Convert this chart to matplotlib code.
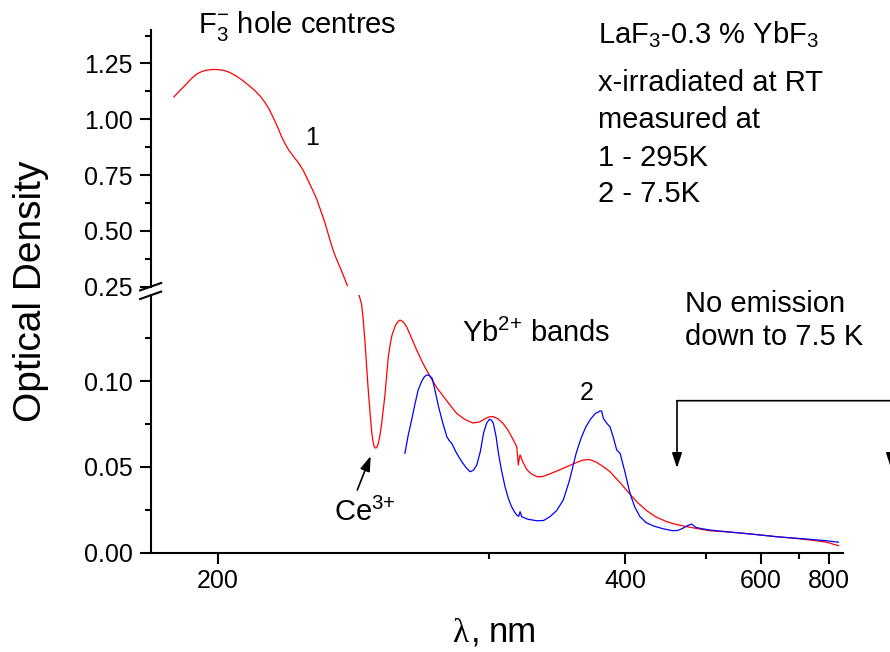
import numpy as np
import matplotlib
matplotlib.use('Agg')
import matplotlib.pyplot as plt
from matplotlib.ticker import FixedLocator, NullFormatter, FormatStrFormatter, FixedFormatter

plt.rcParams['font.family'] = 'Liberation Sans'
plt.rcParams['mathtext.fontset'] = 'custom'
plt.rcParams['mathtext.rm'] = 'Liberation Sans'
plt.rcParams['mathtext.it'] = 'Liberation Sans:italic'
plt.rcParams['mathtext.bf'] = 'Liberation Sans:bold'

# curve 1 (295 K), part above the axis break
red_top_wl = [189.8, 191.2, 192.6, 193.8, 195.0, 196.2, 197.3, 198.6, 199.9, 201.5,
              203.0, 204.7, 206.4, 208.0, 209.6, 211.0, 212.3, 213.5, 214.6, 215.8,
              216.9, 218.0, 219.2, 220.7, 222.2, 223.5, 224.7, 226.1, 227.6, 229.0,
              230.4, 231.7, 233.0, 234.2, 235.3, 236.6, 237.9]
red_top_od = [1.100, 1.130, 1.158, 1.183, 1.203, 1.214, 1.220, 1.223, 1.223, 1.219,
              1.210, 1.193, 1.173, 1.151, 1.128, 1.104, 1.076, 1.045, 1.009, 0.968,
              0.927, 0.891, 0.860, 0.830, 0.801, 0.770, 0.734, 0.692, 0.645, 0.590,
              0.533, 0.472, 0.414, 0.372, 0.339, 0.297, 0.254]

# curve 1 (295 K), part below the axis break
red_bot_wl = [242.0, 242.9, 243.5, 244.1, 244.7, 245.3, 246.0, 246.6, 247.1, 247.5,
              248.0, 248.5, 249.0, 249.6, 250.3, 251.0, 251.7, 252.4, 253.0, 253.8,
              254.5, 255.7, 256.7, 257.7, 259.0, 260.4, 262.5, 264.7, 267.5, 270.6,
              273.6, 276.7, 280.0, 283.0, 287.0, 291.2, 294.8, 298.1, 300.3, 302.3,
              305.0, 307.8, 310.5, 312.9, 314.6, 316.0, 316.6, 317.0, 317.5, 318.1,
              320.0, 322.5, 325.5, 329.0, 332.5, 335.8, 341.0, 347.4, 355.0, 362.6,
              368.0, 373.0, 379.0, 385.8, 395.0, 405.0, 413.0, 422.6, 433.0, 445.6,
              458.0, 471.5, 488.0, 505.6, 534.0, 564.1, 600.0, 637.9, 685.0, 733.3,
              790.0, 840.6]
red_bot_od = [0.150, 0.145, 0.136, 0.124, 0.110, 0.096, 0.082, 0.071, 0.065, 0.062,
              0.061, 0.0612, 0.063, 0.067, 0.074, 0.083, 0.092, 0.104, 0.114, 0.122,
              0.127, 0.132, 0.1345, 0.1356, 0.1345, 0.1317, 0.125, 0.118, 0.110, 0.1026,
              0.0962, 0.091, 0.0858, 0.0812, 0.0778, 0.0756, 0.0762, 0.0783, 0.0792, 0.0793,
              0.0780, 0.0754, 0.0718, 0.0676, 0.0645, 0.0618, 0.0560, 0.0511, 0.0545, 0.057,
              0.0525, 0.0482, 0.0458, 0.0443, 0.0443, 0.0453, 0.0470, 0.0492, 0.0518, 0.054,
              0.0543, 0.053, 0.0505, 0.0472, 0.0410, 0.0341, 0.0291, 0.0245, 0.0208, 0.0181,
              0.0164, 0.0152, 0.0139, 0.0128, 0.0121, 0.0113, 0.0103, 0.0093, 0.0084, 0.0074,
              0.0062, 0.0041]

# curve 2 (7.5 K)
blue_wl = [259.7, 261.0, 262.5, 263.9, 265.3, 266.8, 268.0, 269.1, 270.3, 271.5,
           272.8, 274.4, 276.4, 278.3, 279.5, 280.6, 283.0, 285.6, 287.8, 289.8,
           291.5, 293.3, 295.2, 296.9, 298.6, 300.1, 301.2, 302.3, 303.8, 305.2,
           307.0, 309.0, 311.0, 312.9, 314.5, 316.0, 317.2, 318.1, 319.1, 323.0,
           329.0, 333.5, 337.8, 342.5, 347.4, 352.0, 357.2, 361.0, 365.0, 369.0,
           373.0, 375.5, 376.9, 378.3, 379.9, 382.9, 385.8, 389.0, 392.1, 395.3,
           400.0, 405.0, 410.0, 415.3, 422.0, 430.0, 441.0, 452.9, 460.0, 466.0,
           473.0, 478.4, 484.0, 490.4, 505.6, 534.0, 564.1, 600.0, 637.9, 685.0,
           733.3, 790.0, 840.6]
blue_od = [0.0579, 0.0680, 0.0773, 0.0865, 0.0948, 0.0998, 0.1025, 0.1036, 0.1032, 0.1016,
           0.0945, 0.0851, 0.0755, 0.0676, 0.0652, 0.0638, 0.0580, 0.053, 0.0495, 0.0472,
           0.0480, 0.0511, 0.0590, 0.0696, 0.0755, 0.0777, 0.0773, 0.0754, 0.0680, 0.0579,
           0.0478, 0.0385, 0.0315, 0.0268, 0.0240, 0.022, 0.0212, 0.0239, 0.021, 0.0195,
           0.0186, 0.0188, 0.021, 0.0245, 0.0307, 0.0420, 0.0579, 0.0665, 0.0734, 0.0780,
           0.0812, 0.0820, 0.0826, 0.0826, 0.0783, 0.0754, 0.0734, 0.0670, 0.0598, 0.0579,
           0.0470, 0.0346, 0.0265, 0.021, 0.0175, 0.0156, 0.0140, 0.0128, 0.0130, 0.0142,
           0.0158, 0.0167, 0.0148, 0.0142, 0.0132, 0.0122, 0.0113, 0.0103, 0.0093, 0.0085,
           0.0078, 0.0070, 0.0061]

x_major = [200, 400, 600, 800]
x_minor = [300, 500, 700]
top_yticks = [0.25, 0.50, 0.75, 1.00, 1.25]
top_yminor = [0.375, 0.625, 0.875, 1.125, 1.375]
bot_yticks = [0.00, 0.05, 0.10]
bot_yminor = [0.025, 0.075, 0.125]


def fwd(x):
    with np.errstate(divide='ignore'):
        return -1.0 / np.asarray(x, dtype=float)


def inv(y):
    with np.errstate(divide='ignore'):
        return -1.0 / np.asarray(y, dtype=float)


W, H = 890, 652
fig = plt.figure(figsize=(W / 100, H / 100), dpi=100)
ax_top = fig.add_axes([0.1693, 0.5603, 0.7779, 0.3937])
ax_bot = fig.add_axes([0.1693, 0.1523, 0.7779, 0.3948])

for ax in (ax_top, ax_bot):
    ax.set_xscale('function', functions=(fwd, inv))
    ax.set_xlim(184.8, 861)
    ax.patch.set_alpha(0)
    for s in ('top', 'right'):
        ax.spines[s].set_visible(False)
    for s in ('left', 'bottom'):
        ax.spines[s].set_linewidth(1.5)
    ax.tick_params(which='major', direction='out', length=8, width=1.5, labelsize=18, pad=5)
    ax.tick_params(which='minor', direction='out', length=4, width=1.5)
    ax.yaxis.set_major_formatter(FormatStrFormatter('%.2f'))

ax_top.spines['bottom'].set_visible(False)
ax_top.tick_params(axis='x', which='both', bottom=False, labelbottom=False)
ax_top.set_ylim(0.25, 1.40)
ax_top.yaxis.set_major_locator(FixedLocator(top_yticks))
ax_top.yaxis.set_minor_locator(FixedLocator(top_yminor))

ax_bot.set_ylim(0, 0.15)
ax_bot.yaxis.set_major_locator(FixedLocator(bot_yticks))
ax_bot.yaxis.set_minor_locator(FixedLocator(bot_yminor))
ax_bot.xaxis.set_major_locator(FixedLocator(x_major))
ax_bot.xaxis.set_major_formatter(FixedFormatter([str(v) for v in x_major]))
ax_bot.xaxis.set_minor_locator(FixedLocator(x_minor))
ax_bot.xaxis.set_minor_formatter(NullFormatter())
ax_bot.tick_params(axis='x', pad=4)

ax_top.plot(red_top_wl, red_top_od, color='#ff0000', lw=0.9)
ax_bot.plot(red_bot_wl, red_bot_od, color='#ff0000', lw=0.9)
ax_bot.plot(blue_wl, blue_od, color='#0000ff', lw=0.9)

# axis break marks
d, dy = 0.0152, 0.0144
ax_top.plot([-d, d], [-dy, dy], transform=ax_top.transAxes, color='k', lw=1.5, clip_on=False)
ax_bot.plot([-d, d], [1 - dy, 1 + dy], transform=ax_bot.transAxes, color='k', lw=1.5, clip_on=False)


def ftxt(x, y, s, **kw):
    # position in image pixels (y measured from the top)
    kw.setdefault('fontsize', 21)
    kw.setdefault('va', 'baseline')
    return fig.text(x / W, 1 - y / H, s, **kw)


ftxt(198, 33, r'F$_3^{-}$ hole centres')
ftxt(312, 138, '1', fontsize=18, ha='center', va='center')
ftxt(598, 43.3, r'LaF$_3$-0.3 % YbF$_3$')
ftxt(598, 90.7, 'x-irradiated at RT')
ftxt(598, 128.3, 'measured at')
ftxt(598, 165.7, '1 - 295K')
ftxt(598, 202, '2 - 7.5K')
ftxt(461.7, 341.7, r'Yb$^{2{+}}$ bands')
ftxt(586.7, 393, '2', fontsize=18, ha='center', va='center')
ftxt(685, 311.7, 'No emission')
ftxt(685, 345, 'down to 7.5 K')
ftxt(334, 520.7, r'Ce$^{3{+}}$')

ftxt(31, 291, 'Optical Density', fontsize=28, rotation=90, ha='center', va='center')
ftxt(451.7, 641.7, 'λ', fontsize=24, family='Liberation Serif')
ftxt(470.7, 641.7, ',', fontsize=25)
ftxt(488.3, 641.7, 'nm', fontsize=25)

# arrows
arrow = dict(arrowstyle='-|>,head_length=0.9,head_width=0.3', color='k', lw=1.2,
             shrinkA=0, shrinkB=0)
ax_bot.annotate('', xy=(370.7, H - 456), xycoords='figure pixels',
                xytext=(357.3, H - 490), textcoords='figure pixels', arrowprops=arrow)
ax_bot.annotate('', xy=(677, H - 468), xycoords='figure pixels',
                xytext=(677, H - 400.7), textcoords='figure pixels', arrowprops=arrow)
ax_bot.annotate('', xy=(891, H - 468), xycoords='figure pixels',
                xytext=(891, H - 400.7), textcoords='figure pixels', arrowprops=arrow,
                annotation_clip=False)
ax_bot.annotate('', xy=(891, H - 400.7), xycoords='figure pixels',
                xytext=(677, H - 400.7), textcoords='figure pixels',
                arrowprops=dict(arrowstyle='-', color='k', lw=1.2, shrinkA=0, shrinkB=0))

fig.savefig('out.png', dpi=100)
